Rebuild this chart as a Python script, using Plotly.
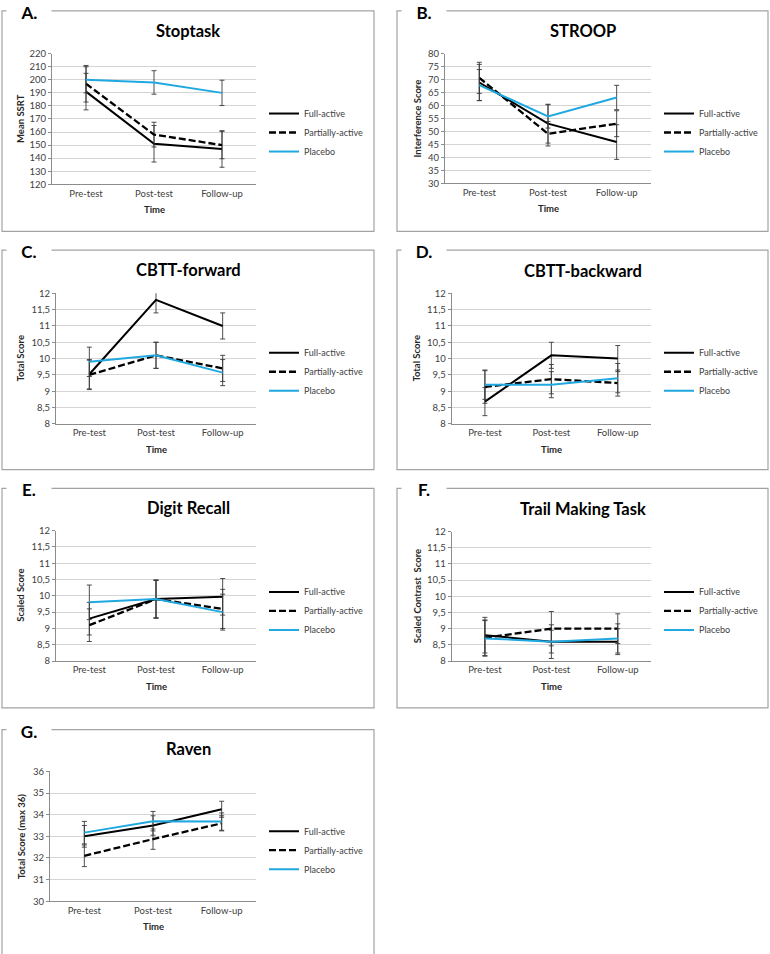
import plotly.graph_objects as go

W, H = 770, 954

categories = ["Pre-test", "Post-test", "Follow-up"]
groups = ["Full-active", "Partially-active", "Placebo"]

# A. Stoptask
stop_full = [191, 151, 147]
stop_partial = [197, 158, 150]
stop_placebo = [200, 198, 190]
stop_full_err = [14, 14, 14]
stop_partial_err = [14, 9.5, 10.5]
stop_placebo_err = [10, 9, 9.7]

# B. STROOP
stroop_full = [68.9, 53.0, 45.9]
stroop_partial = [70.7, 49.1, 53.0]
stroop_placebo = [67.9, 55.8, 63.1]
stroop_full_err = [7, 7.5, 6.7]
stroop_partial_err = [6, 4.7, 5]
stroop_placebo_err = [6, 4.5, 4.7]

# C. CBTT-forward
cf_full = [9.52, 11.8, 11.0]
cf_partial = [9.5, 10.1, 9.7]
cf_placebo = [9.9, 10.1, 9.57]
cf_full_err = [0.45, 0.4, 0.4]
cf_partial_err = [0.45, 0.4, 0.4]
cf_placebo_err = [0.45, 0.4, 0.4]

# D. CBTT-backward
cb_full = [8.68, 10.1, 10.0]
cb_partial = [9.13, 9.37, 9.25]
cb_placebo = [9.2, 9.2, 9.4]
cb_full_err = [0.43, 0.4, 0.4]
cb_partial_err = [0.5, 0.45, 0.4]
cb_placebo_err = [0.45, 0.4, 0.45]

# E. Digit Recall
dr_full = [9.3, 9.9, 9.97]
dr_partial = [9.1, 9.9, 9.6]
dr_placebo = [9.8, 9.9, 9.5]
dr_full_err = [0.5, 0.58, 0.56]
dr_partial_err = [0.5, 0.58, 0.6]
dr_placebo_err = [0.53, 0.58, 0.55]

# F. Trail Making Task
tm_full = [8.8, 8.6, 8.6]
tm_partial = [8.72, 9.0, 9.0]
tm_placebo = [8.7, 8.6, 8.7]
tm_full_err = [0.55, 0.52, 0.4]
tm_partial_err = [0.55, 0.53, 0.46]
tm_placebo_err = [0.55, 0.35, 0.45]

# G. Raven
rv_full = [33.0, 33.5, 34.25]
rv_partial = [32.1, 32.87, 33.6]
rv_placebo = [33.17, 33.7, 33.68]
rv_full_err = [0.5, 0.45, 0.37]
rv_partial_err = [0.5, 0.47, 0.35]
rv_placebo_err = [0.52, 0.45, 0.4]

panel_data = [
    ("A.", "Stoptask", "Mean SSRT", [120, 220], 10,
     [stop_full, stop_partial, stop_placebo], [stop_full_err, stop_partial_err, stop_placebo_err]),
    ("B.", "STROOP", "Interference Score", [30, 80], 5,
     [stroop_full, stroop_partial, stroop_placebo], [stroop_full_err, stroop_partial_err, stroop_placebo_err]),
    ("C.", "CBTT-forward", "Total Score", [8, 12], 0.5,
     [cf_full, cf_partial, cf_placebo], [cf_full_err, cf_partial_err, cf_placebo_err]),
    ("D.", "CBTT-backward", "Total Score", [8, 12], 0.5,
     [cb_full, cb_partial, cb_placebo], [cb_full_err, cb_partial_err, cb_placebo_err]),
    ("E.", "Digit Recall", "Scaled Score", [8, 12], 0.5,
     [dr_full, dr_partial, dr_placebo], [dr_full_err, dr_partial_err, dr_placebo_err]),
    ("F.", "Trail Making Task", "Scaled Contrast  Score", [8, 12], 0.5,
     [tm_full, tm_partial, tm_placebo], [tm_full_err, tm_partial_err, tm_placebo_err]),
    ("G.", "Raven", "Total Score (max 36)", [30, 36], 1,
     [rv_full, rv_partial, rv_placebo], [rv_full_err, rv_partial_err, rv_placebo_err]),
]

# layout geometry in pixels: box (x0,y0,x1,y1), plot area (x0,y0,x1,y1), title y, ytitle x, legend left x, legend center y
geom = [
    dict(box=(2, 5, 374, 228), plot=(52, 48.3, 256, 180.3), ty=25, ytx=21, lx=264, ly=128),
    dict(box=(397, 5, 768, 228), plot=(445, 48.3, 651, 179.3), ty=25, ytx=417, lx=659, ly=128),
    dict(box=(2, 247, 374, 469), plot=(56, 290.7, 256, 422.7), ty=267, ytx=21, lx=264, ly=370),
    dict(box=(397, 247, 768, 469), plot=(451.7, 290.7, 651, 422.7), ty=268, ytx=417, lx=659, ly=370),
    dict(box=(2, 488, 374, 710), plot=(56, 530.7, 256, 662.7), ty=508, ytx=21, lx=264, ly=612),
    dict(box=(397, 488, 768, 710), plot=(451.7, 531.7, 651, 662.7), ty=509, ytx=417, lx=659, ly=612),
    dict(box=(2, 732, 374, 960), plot=(50, 774.3, 256, 905.7), ty=752, ytx=21, lx=264, ly=854),
]

FONT = "Lato"
line_styles = [
    dict(color="black", width=2, dash="solid"),
    dict(color="black", width=2.3, dash="7px,3px"),
    dict(color="#20a8e0", width=2, dash="solid"),
]

def fx(p):
    return p / W

def fy(p):
    return 1 - p / H

fig = go.Figure()
layout = dict(width=W, height=H, margin=dict(l=0, r=0, t=0, b=0),
              paper_bgcolor="white", plot_bgcolor="white",
              separators=",.", showlegend=True,
              font=dict(family=FONT, color="#404040"))
shapes = []
annotations = []

for i, ((lab, title, ytitle, yr, dt, means, errs), g) in enumerate(zip(panel_data, geom)):
    n = i + 1
    xa = "x" if n == 1 else f"x{n}"
    ya = "y" if n == 1 else f"y{n}"
    leg = "legend" if n == 1 else f"legend{n}"
    for k in range(3):
        fig.add_trace(go.Scatter(
            x=categories, y=means[k], mode="lines", name=groups[k],
            line=line_styles[k],
            error_y=dict(type="data", array=errs[k], visible=True,
                         color="#3a3a3a", thickness=0.9, width=2.5),
            xaxis=xa, yaxis=ya, legend=leg, legendgroup=f"{n}-{k}",
            hoverinfo="x+y+name"))
    px0, py0, px1, py1 = g["plot"]
    layout["xaxis" if n == 1 else f"xaxis{n}"] = dict(
        domain=[fx(px0), fx(px1)], anchor=ya, type="category",
        range=[-0.5, 2.5], showline=True, linecolor="#8c8c8c", linewidth=1,
        showgrid=False, zeroline=False, ticks="", fixedrange=True,
        tickfont=dict(size=9.5, color="#404040", family=FONT))
    layout["yaxis" if n == 1 else f"yaxis{n}"] = dict(
        domain=[fy(py1), fy(py0)], anchor=xa, range=yr, dtick=dt, tick0=yr[0],
        showline=True, linecolor="#8c8c8c", linewidth=1,
        showgrid=True, gridcolor="#d4d4d4", gridwidth=1, zeroline=False,
        ticks="outside", ticklen=3, tickcolor="#8c8c8c", fixedrange=True,
        tickfont=dict(size=9.5, color="#404040", family=FONT))
    layout[leg] = dict(x=fx(g["lx"]), y=fy(g["ly"]), xanchor="left", yanchor="middle",
                       bgcolor="rgba(0,0,0,0)", font=dict(size=9, color="#404040", family=FONT),
                       tracegroupgap=0, traceorder="normal")
    bx0, by0, bx1, by1 = g["box"]
    shapes.append(dict(type="rect", xref="paper", yref="paper",
                       x0=fx(bx0), x1=fx(bx1), y0=fy(by1), y1=fy(by0),
                       line=dict(color="#a3a3a3", width=1.2), fillcolor="rgba(0,0,0,0)", layer="below"))
    # panel letter
    annotations.append(dict(xref="paper", yref="paper", x=fx(bx0 + 26.5), y=fy(by0 + 1),
                            text=f"<b>{lab}</b>", showarrow=False, xanchor="center", yanchor="middle",
                            font=dict(size=17, color="black", family=FONT),
                            bgcolor="white", width=42, height=18))
    # title
    annotations.append(dict(xref="paper", yref="paper", x=fx((bx0 + bx1) / 2), y=fy(g["ty"]),
                            text=f"<b>{title}</b>", showarrow=False, xanchor="center", yanchor="middle",
                            font=dict(size=16.5, color="black", family=FONT)))
    # x title
    annotations.append(dict(xref="paper", yref="paper", x=fx((px0 + px1) / 2), y=fy(py1 + 26),
                            text="<b>Time</b>", showarrow=False, xanchor="center", yanchor="middle",
                            font=dict(size=9.5, color="#262626", family=FONT)))
    # y title
    annotations.append(dict(xref="paper", yref="paper", x=fx(g["ytx"]), y=fy((py0 + py1) / 2),
                            text=f"<b>{ytitle}</b>", showarrow=False, xanchor="center", yanchor="middle",
                            textangle=-90, font=dict(size=9.5, color="#262626", family=FONT)))

layout["shapes"] = shapes
layout["annotations"] = annotations
fig.update_layout(**layout)
fig.write_html("out.html", config={"displayModeBar": False},
               post_script="document.body.style.margin='0px';document.body.style.overflow='hidden';")
